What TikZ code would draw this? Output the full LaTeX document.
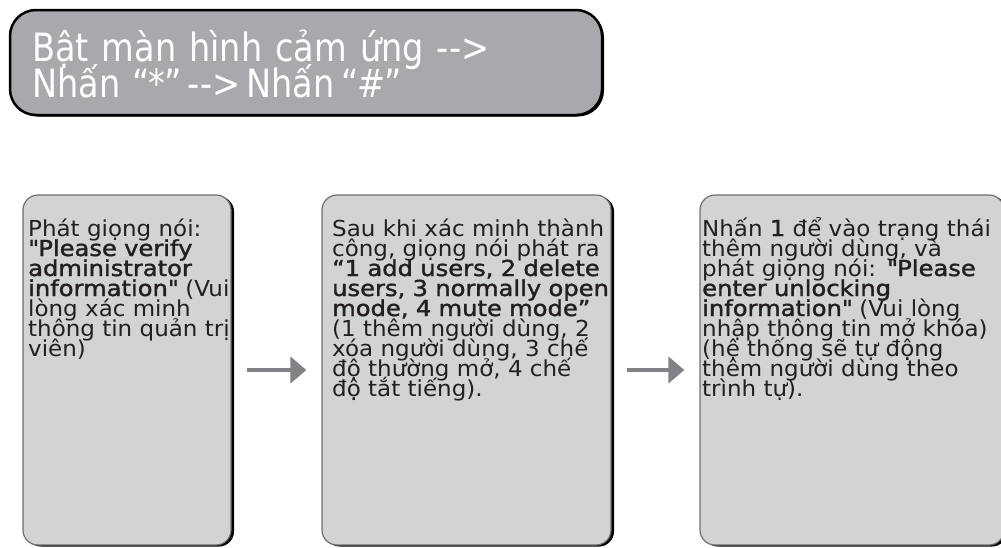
\documentclass[tikz,border=0pt]{standalone}
\usepackage{fontspec}
\setmainfont{DejaVu Sans}[FakeStretch=1.045,BoldFont={DejaVu Sans},BoldFeatures={FakeBold=1.6,FakeStretch=1.1}]
\newfontfamily\titlefont{DejaVu Sans}[FakeStretch=0.86]
\usetikzlibrary{arrows.meta,shadows}
\definecolor{boxfill}{HTML}{D1D3D4}
\definecolor{boxline}{HTML}{6D6E71}
\definecolor{titlefill}{HTML}{A7A9AC}
\definecolor{arrowgray}{HTML}{808285}
\definecolor{ink}{HTML}{231F20}
\newcommand\tightlines{\lineskiplimit=-100pt\relax}
\newcommand\boxfont{\fontsize{22}{20}\selectfont\tightlines}
\newcommand\bigtitlefont{\titlefont\fontsize{39}{36}\selectfont\tightlines}
\newcommand\sq{\textquotedbl}
\begin{document}
\begin{tikzpicture}[x=1pt,y=-1pt,
  stepbox/.style={draw=boxline,line width=1.2pt,fill=boxfill,rounded corners=15pt,
    drop shadow={shadow xshift=3pt,shadow yshift=-1.5pt,fill=black,opacity=1}},
  titlebox/.style={draw=black,line width=2.5pt,fill=titlefill,rounded corners=26pt,
    drop shadow={shadow xshift=2pt,shadow yshift=-1.5pt,fill=black,opacity=1}},
  boxtext/.style={anchor=base west,inner sep=0pt,text width=330pt,align=left,text=ink,
    font=\boxfont},
  titletext/.style={anchor=base west,inner sep=0pt,text width=600pt,align=left,text=white,
    font=\bigtitlefont},
  flowarrow/.style={draw=arrowgray,line width=4pt,-{Triangle[length=16pt,width=26pt]}}]
\useasboundingbox (0,0) rectangle (1001,547);
\clip (0,0) rectangle (1001,547);

\node[titlebox,minimum width=592pt,minimum height=105pt] (title) at (306,62.5) {};
\node[titletext] (titletxt) at (32,61) {Bật màn hình cảm ứng {-}{-}>\\Nhấn\hspace{12pt}“\kern-1pt*\kern-1pt”\hspace{6pt}{-}{-}>\hspace{6pt}Nhấn\hspace{7pt}“\kern-1pt\#\kern-1pt”};

\node[stepbox,minimum width=208pt,minimum height=350pt] (b1) at (127,370) {};
\node[stepbox,minimum width=289pt,minimum height=350pt] (b2) at (466.5,370) {};
\node[stepbox,minimum width=304pt,minimum height=350pt] (b3) at (852,370) {};

\node[boxtext] (t1) at (28,236) {Phát giọng nói:\\
\textbf{\sq Please verify}\\
\textbf{administrator}\\
\textbf{information\sq} (Vui\\
lòng xác minh\\
thông tin quản trị\\
viên)};

\node[boxtext] (t2) at (332,236) {Sau khi xác minh thành\\
công, giọng nói phát ra\\
\textbf{“1 add users, 2 delete}\\
\textbf{users, 3 normally open}\\
\textbf{mode, 4 mute mode”}\\
(1 thêm người dùng, 2\\
xóa người dùng, 3 chế\\
độ thường mở, 4 chế\\
độ tắt tiếng).};

\node[boxtext] (t3) at (702,236) {Nhấn \textbf{1} để vào trạng thái\\
thêm người dùng, và\\
phát giọng nói: \textbf{\sq Please}\\
\textbf{enter unlocking}\\
\textbf{information\sq} (Vui lòng\\
nhập thông tin mở khóa)\\
(hệ thống sẽ tự động\\
thêm người dùng theo\\
trình tự).};

\draw[flowarrow] ([xshift=15pt]b1.east) -- ([xshift=-15pt]b2.west);
\draw[flowarrow] ([xshift=15pt]b2.east) -- ([xshift=-15pt]b3.west);
\end{tikzpicture}
\end{document}
